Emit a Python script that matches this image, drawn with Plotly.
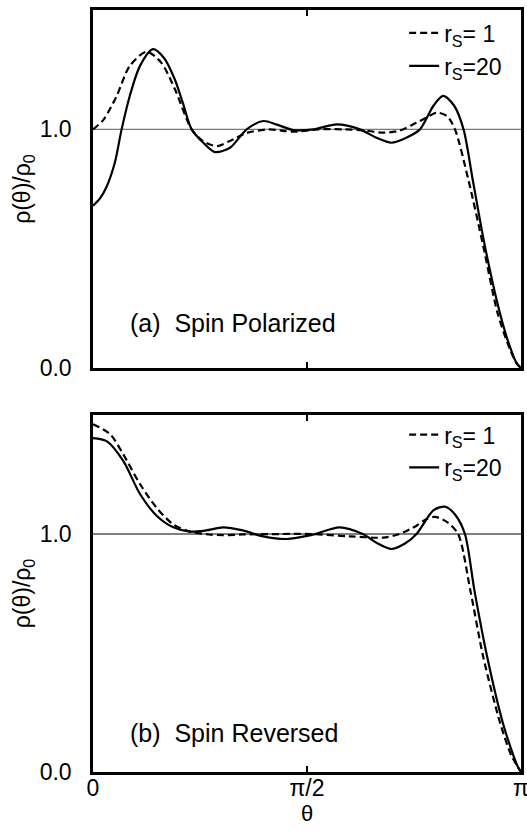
import math
import plotly.graph_objects as go

PI = math.pi

# ---- data ----
# (a) Spin polarized, r_s = 20 (solid)
pol20_theta = [0, 0.05, 0.10, 0.16, 0.21, 0.27, 0.345, 0.44, 0.52, 0.60, 0.66, 0.724,
               0.81, 0.896, 1.006, 1.128, 1.25, 1.35, 1.47, 1.62, 1.79, 1.96, 2.08,
               2.19, 2.30, 2.40, 2.50, 2.571, 2.65, 2.72, 2.787, 2.877, 2.987, 3.06,
               3.11, PI]
pol20_rho = [0.68, 0.71, 0.76, 0.86, 1.0, 1.14, 1.266, 1.336, 1.30, 1.21, 1.11, 1.0,
             0.944, 0.905, 0.923, 1.0, 1.035, 1.02, 0.997, 1.0, 1.021, 1.0, 0.965,
             0.944, 0.965, 1.0, 1.10, 1.14, 1.10, 1.0, 0.79, 0.51, 0.23, 0.09,
             0.02, 0.0]

# (a) Spin polarized, r_s = 1 (dashed)
pol1_theta = [0, 0.076, 0.174, 0.27, 0.394, 0.50, 0.60, 0.724, 0.81, 0.908, 1.0, 1.128,
              1.29, 1.47, 1.65, 1.85, 2.0, 2.13, 2.25, 2.375, 2.45, 2.523, 2.60, 2.657,
              2.755, 2.865, 2.97, 3.06, 3.11, PI]
pol1_rho = [1.0, 1.04, 1.14, 1.266, 1.325, 1.28, 1.17, 1.0, 0.95, 0.93, 0.95, 0.985,
            1.0, 0.99, 1.0, 1.0, 0.995, 0.986, 0.995, 1.028, 1.05, 1.07, 1.055, 1.0,
            0.79, 0.51, 0.23, 0.08, 0.02, 0.0]

# (b) Spin reversed, r_s = 20 (solid)
rev20_theta = [0, 0.10, 0.222, 0.345, 0.467, 0.59, 0.712, 0.83, 0.956, 1.10, 1.25,
               1.42, 1.60, 1.81, 1.98, 2.09, 2.19, 2.29, 2.375, 2.50, 2.584, 2.66,
               2.73, 2.80, 2.894, 3.01, 3.09, 3.12, PI]
rev20_rho = [1.403, 1.39, 1.307, 1.168, 1.077, 1.028, 1.01, 1.015, 1.028, 1.015, 0.99,
             0.979, 0.995, 1.028, 1.0, 0.96, 0.937, 0.96, 1.0, 1.10, 1.115, 1.08,
             1.0, 0.762, 0.482, 0.203, 0.063, 0.02, 0.0]

# (b) Spin reversed, r_s = 1 (dashed)
rev1_theta = [0, 0.125, 0.222, 0.345, 0.467, 0.59, 0.712, 0.85, 0.956, 1.10, 1.39,
              1.60, 1.886, 2.13, 2.25, 2.375, 2.44, 2.51, 2.60, 2.68, 2.77, 2.865,
              2.99, 3.07, 3.12, PI]
rev1_rho = [1.461, 1.42, 1.335, 1.21, 1.11, 1.04, 1.01, 0.998, 0.995, 0.998, 1.0,
            1.0, 0.99, 0.985, 1.0, 1.035, 1.06, 1.072, 1.05, 1.0, 0.762, 0.482,
            0.203, 0.07, 0.02, 0.0]

x_tickvals = [0, PI / 2, PI]
x_ticktext = ["0", "π/2", "π"]
y_tickvals = [0.0, 1.0]
y_ticktext = ["0.0", "1.0"]
ref_level = 1.0

label_rs1 = "r<sub>S</sub>= 1"
label_rs20 = "r<sub>S</sub>=20"
panel_a = "(a)  Spin Polarized"
panel_b = "(b)  Spin Reversed"

FONT = "Liberation Sans, Arial, Helvetica, sans-serif"
DASH = "7px,4px"
FS = 23

fig = go.Figure()

def add(x, y, name, dash, xa, ya, legend, group):
    fig.add_trace(go.Scatter(
        x=x, y=y, mode="lines", name=name, xaxis=xa, yaxis=ya,
        legend=legend, legendgroup=group,
        line=dict(color="black", width=2.2, dash=dash, shape="spline", smoothing=0.8),
        hoverinfo="skip"))

add(pol1_theta, pol1_rho, label_rs1, DASH, "x", "y", "legend", "a1")
add(pol20_theta, pol20_rho, label_rs20, "solid", "x", "y", "legend", "a20")
add(rev1_theta, rev1_rho, label_rs1, DASH, "x2", "y2", "legend2", "b1")
add(rev20_theta, rev20_rho, label_rs20, "solid", "x2", "y2", "legend2", "b20")

axis_common = dict(showline=True, linecolor="black", linewidth=2.5, showgrid=False,
                   zeroline=False, automargin=False)

xcommon = dict(range=[0, PI], tickvals=x_tickvals, ticktext=x_ticktext,
               ticks="inside", ticklen=6, tickwidth=1.5, tickcolor="black",
               mirror="ticks", ticklabeloverflow="allow", **axis_common)
ycommon = dict(range=[0, 1.5], tickvals=y_tickvals, ticktext=y_ticktext,
               ticks="", mirror=True, ticklabelstandoff=14,
               tickfont=dict(family=FONT, size=FS, color="black"),
               title=dict(text="ρ(θ)/ρ<sub>0</sub>", standoff=3,
                          font=dict(family=FONT, size=FS, color="black")),
               **axis_common)

fig.update_layout(
    width=527, height=831,
    margin=dict(l=93, r=6, t=10, b=59, autoexpand=False),
    paper_bgcolor="white", plot_bgcolor="white",
    font=dict(family=FONT, size=FS, color="black"),
    xaxis=dict(domain=[0, 1], anchor="y", showticklabels=False, **xcommon),
    yaxis=dict(domain=[0.530, 1], anchor="x", **ycommon),
    xaxis2=dict(domain=[0, 1], anchor="y2", showticklabels=True,
                ticklabelstandoff=-6,
                tickfont=dict(family=FONT, size=FS, color="black"),
                title=dict(text="θ", standoff=0,
                           font=dict(family=FONT, size=22, color="black")),
                **xcommon),
    yaxis2=dict(domain=[0, 0.4685], anchor="x2", **ycommon),
    legend=dict(x=0.727, xanchor="left", y=0.998, yanchor="top",
                bgcolor="rgba(0,0,0,0)", tracegroupgap=0,
                font=dict(family=FONT, size=FS, color="black")),
    legend2=dict(x=0.727, xanchor="left", y=0.471, yanchor="top",
                 bgcolor="rgba(0,0,0,0)", tracegroupgap=0,
                 font=dict(family=FONT, size=FS, color="black")),
    showlegend=True,
)

# reference level line rho/rho0 = 1
fig.add_shape(type="line", xref="x domain", yref="y", x0=0, x1=1, y0=ref_level,
              y1=ref_level, line=dict(color="#7a7a7a", width=1.3), layer="below")
fig.add_shape(type="line", xref="x2 domain", yref="y2", x0=0, x1=1, y0=ref_level,
              y1=ref_level, line=dict(color="black", width=1), layer="below")

fig.add_annotation(text=panel_a, xref="x domain", yref="y domain", x=0.082, y=0.126,
                   xanchor="left", yanchor="middle", showarrow=False,
                   font=dict(family=FONT, size=25, color="black"))
fig.add_annotation(text=panel_b, xref="x2 domain", yref="y2 domain", x=0.082, y=0.109,
                   xanchor="left", yanchor="middle", showarrow=False,
                   font=dict(family=FONT, size=25, color="black"))

fig.write_html(
    "out.html",
    config={"displayModeBar": False},
    post_script="document.body.style.margin='0';document.body.style.overflow='hidden';",
)
